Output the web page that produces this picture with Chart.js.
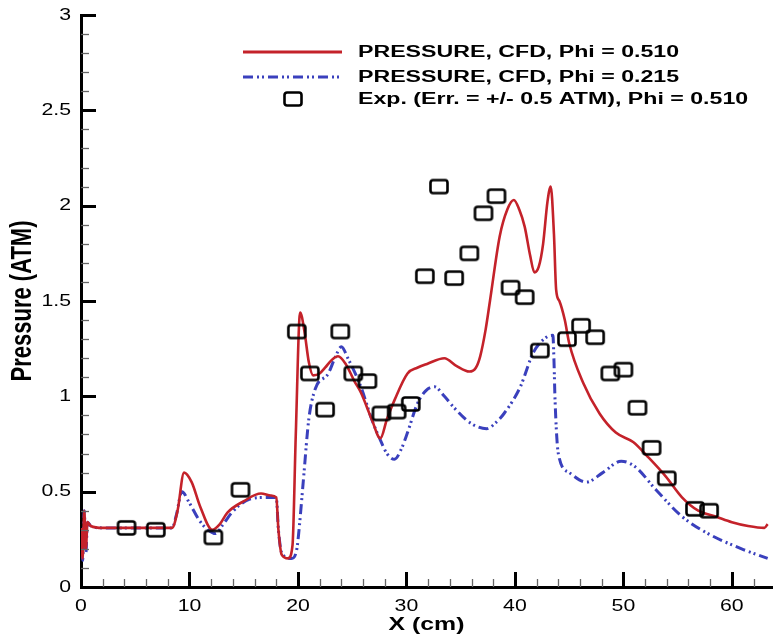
<!DOCTYPE html>
<html>
<head>
<meta charset="utf-8">
<title>Pressure vs X</title>
<script src="https://cdn.jsdelivr.net/npm/chart.js@4.4.1/dist/chart.umd.min.js"></script>
<style>
  html, body { margin: 0; padding: 0; background: #fff; }
  #chart { display: block; }
</style>
</head>
<body>
<canvas id="chart" width="782" height="636"></canvas>
<script>
// ── Data ──────────────────────────────────────────────────────────────

const xTicks = [0, 10, 20, 30, 40, 50, 60];
const yTicks = [0, 0.5, 1, 1.5, 2, 2.5, 3];

const legendLabels = [
    'PRESSURE, CFD, Phi = 0.510',
    'PRESSURE, CFD, Phi = 0.215',
    'Exp. (Err. = +/- 0.5 ATM), Phi = 0.510',
];

// CFD, Phi = 0.510
const redX = [0, 0.15, 0.3, 0.45, 0.6, 0.9, 2, 8.4, 8.9, 9.5, 10.2, 11.0, 12.1, 12.8, 13.5, 15.0, 16.6, 17.5, 18.0,
    18.2, 18.5, 19.1, 19.5, 19.8, 20.2, 20.6, 21.0, 21.4, 22.0, 22.5, 23.1, 23.7, 24.4, 25.2, 25.8, 26.8, 27.6,
    28.2, 28.9, 30.1, 31.0, 31.9, 33.5, 34.6, 35.8, 36.4, 36.8, 37.3, 37.7, 38.6, 39.3, 39.9, 40.4, 40.9, 41.4,
    41.8, 42.2, 42.6, 43.0, 43.3, 43.6, 43.8, 44.1, 44.6, 45.0, 46.3, 47.8, 49.3, 50.9, 52.3, 53.9, 55.4, 56.9,
    58.5, 60.0, 61.5, 63.0, 63.3];
const redY = [0.31, 0.15, 0.40, 0.20, 0.34, 0.32, 0.31, 0.31, 0.40, 0.60, 0.55, 0.42, 0.30, 0.33, 0.39, 0.45, 0.49, 0.48, 0.47,
    0.30, 0.17, 0.15, 0.22, 0.80, 1.44, 1.34, 1.18, 1.11, 1.12, 1.15, 1.19, 1.21, 1.17, 1.08, 1.02, 0.88, 0.78,
    0.88, 0.98, 1.12, 1.15, 1.17, 1.20, 1.16, 1.13, 1.15, 1.21, 1.35, 1.50, 1.84, 1.98, 2.03, 1.98, 1.89, 1.74,
    1.65, 1.68, 1.80, 2.02, 2.10, 1.85, 1.56, 1.50, 1.40, 1.28, 1.07, 0.91, 0.81, 0.76, 0.68, 0.58, 0.47, 0.40,
    0.37, 0.34, 0.32, 0.31, 0.33];

// CFD, Phi = 0.215
const blueX = [0, 0.15, 0.3, 0.45, 0.6, 0.9, 2, 8.4, 8.8, 9.3, 10.0, 10.9, 11.7, 12.4, 13.0, 13.9, 15.5, 17.0, 18.0,
    18.2, 18.5, 19.4, 19.9, 20.1, 20.5, 21.0, 21.6, 22.8, 23.4, 24.0, 24.6, 25.8, 26.8, 27.6, 28.2, 28.9, 29.5,
    30.1, 31.0, 31.8, 32.6, 33.5, 34.4, 35.9, 37.4, 38.2, 39.0, 40.5, 41.7, 42.9, 43.5, 43.6, 43.7, 44.0, 45.0,
    46.6, 48.1, 49.8, 51.1, 53.0, 55.4, 57.8, 60.9, 63.3];
const blueY = [0.31, 0.14, 0.40, 0.18, 0.34, 0.32, 0.31, 0.31, 0.38, 0.50, 0.44, 0.35, 0.30, 0.28, 0.32, 0.39, 0.46, 0.47, 0.47,
    0.30, 0.18, 0.15, 0.20, 0.30, 0.56, 0.88, 1.04, 1.12, 1.20, 1.26, 1.20, 1.05, 0.88, 0.77, 0.70, 0.67, 0.72,
    0.81, 0.96, 1.03, 1.05, 1.00, 0.94, 0.86, 0.83, 0.86, 0.91, 1.05, 1.23, 1.31, 1.32, 1.19, 0.98, 0.70, 0.60,
    0.55, 0.60, 0.66, 0.63, 0.51, 0.37, 0.28, 0.20, 0.15];

// Experiment, Phi = 0.510
const expX = [4.2, 6.9, 12.2, 14.7, 19.9, 21.1, 22.5, 23.9, 25.1, 26.4, 27.7, 29.1, 30.4, 31.7, 33.0, 34.4,
    35.8, 37.1, 38.3, 39.6, 40.9, 42.3, 44.8, 46.1, 47.4, 48.8, 50.0, 51.3, 52.6, 54.0, 56.6, 57.9];
const expY = [0.31, 0.30, 0.26, 0.51, 1.34, 1.12, 0.93, 1.34, 1.12, 1.08, 0.91, 0.92, 0.96, 1.63, 2.10, 1.62,
    1.75, 1.96, 2.05, 1.57, 1.52, 1.24, 1.30, 1.37, 1.31, 1.12, 1.14, 0.94, 0.73, 0.57, 0.41, 0.40];

const X_MAX = 63.7;
const RED = '#c4222a';
const BLUE = '#3a40bd';
const BLUE_DASH = [10, 4, 2, 3, 2, 4];
const FONT = "'Liberation Sans', Arial, Helvetica, sans-serif";

const toPoints = (xs, ys) => xs.map((x, i) => ({ x, y: ys[i] }));

// ── Canvas tweaks ─────────────────────────────────────────────────────

const canvas = document.getElementById('chart');
const ctx = canvas.getContext('2d');

// The reference lettering is stretched sideways; widen text around its anchor
const rawFillText = ctx.fillText;
ctx.fillText = function (text, x, y) {
    const k = this.font.includes('bold') ? 1.38 : 1.25;
    const m = this.getTransform();
    const p = m.transformPoint(new DOMPoint(x, y));
    this.save();
    this.setTransform(new DOMMatrix().translate(p.x, p.y).scale(k, 1).translate(-p.x, -p.y).multiply(m));
    rawFillText.call(this, text, x, y);
    this.restore();
};

// Hollow, slightly wide square marker
function makeMarker() {
    const c = document.createElement('canvas');
    c.width = 22; c.height = 18;
    const g = c.getContext('2d');
    g.lineWidth = 2.6;
    g.strokeStyle = '#000';
    g.beginPath();
    g.roundRect(2.5, 2.5, 17, 13, 2.5);
    g.stroke();
    return c;
}
const marker = makeMarker();

// ── Plugins ───────────────────────────────────────────────────────────

// Tecplot-style ticks pointing into the plot
const innerTicks = {
    id: 'innerTicks',
    afterDraw(chart) {
        const { ctx, chartArea: a, scales: { x, y } } = chart;
        ctx.save();
        const tick = (len, width, color, fn) => {
            ctx.lineWidth = width;
            ctx.strokeStyle = color;
            ctx.beginPath();
            fn(len);
            ctx.stroke();
        };
        for (let v = 0; v <= X_MAX; v += 2) {
            const px = Math.round(x.getPixelForValue(v)) + 0.5;
            const major = v % 10 === 0;
            tick(major ? 15 : 8, major ? 3 : 1.3, major ? '#000' : '#666', len => {
                ctx.moveTo(px, a.bottom);
                ctx.lineTo(px, a.bottom - len);
            });
        }
        for (let i = 0; i <= 30; i++) {
            const py = Math.round(y.getPixelForValue(i / 10)) + 0.5;
            const major = i % 5 === 0;
            tick(major ? 15 : 8, major ? 3 : 1.3, major ? '#000' : '#666', len => {
                ctx.moveTo(a.left, py);
                ctx.lineTo(a.left + len, py);
            });
        }
        ctx.restore();
    },
};

const boxLegend = {
    id: 'boxLegend',
    afterDraw(chart) {
        const { ctx } = chart;
        const rows = [52, 77, 99];
        ctx.save();
        ctx.lineWidth = 2.8;
        ctx.strokeStyle = RED;
        ctx.beginPath();
        ctx.moveTo(243, rows[0]);
        ctx.lineTo(342, rows[0]);
        ctx.stroke();

        ctx.lineWidth = 3;
        ctx.strokeStyle = BLUE;
        ctx.setLineDash(BLUE_DASH);
        ctx.beginPath();
        ctx.moveTo(243, rows[1]);
        ctx.lineTo(342, rows[1]);
        ctx.stroke();
        ctx.setLineDash([]);

        ctx.drawImage(marker, 293 - marker.width / 2, rows[2] - marker.height / 2);

        ctx.fillStyle = '#000';
        ctx.font = 'bold 16.8px ' + FONT;
        ctx.textAlign = 'left';
        ctx.textBaseline = 'middle';
        legendLabels.forEach((t, i) => ctx.fillText(t, 358, rows[i]));
        ctx.restore();
    },
};

// ── Chart ─────────────────────────────────────────────────────────────

new Chart(ctx, {
    type: 'scatter',
    data: {
        datasets: [
            {
                label: legendLabels[2],
                data: toPoints(expX, expY),
                pointStyle: marker,
                pointRadius: 9,
                order: 0,
            },
            {
                label: legendLabels[0],
                data: toPoints(redX, redY),
                showLine: true,
                borderColor: RED,
                borderWidth: 2.6,
                pointRadius: 0,
                cubicInterpolationMode: 'monotone',
                order: 1,
            },
            {
                label: legendLabels[1],
                data: toPoints(blueX, blueY),
                showLine: true,
                borderColor: BLUE,
                borderWidth: 3,
                borderDash: BLUE_DASH,
                pointRadius: 0,
                cubicInterpolationMode: 'monotone',
                order: 2,
            },
        ],
    },
    options: {
        responsive: false,
        animation: false,
        devicePixelRatio: 1,
        layout: { padding: { left: 0, right: 1, top: 15, bottom: 0 } },
        plugins: {
            legend: { display: false },
            tooltip: { enabled: false },
        },
        scales: {
            x: {
                type: 'linear',
                min: 0,
                max: X_MAX,
                afterBuildTicks: s => { s.ticks = xTicks.map(value => ({ value })); },
                afterFit: s => { s.height = 49; s.paddingLeft = 0; s.paddingRight = 0; },
                grid: { display: false, drawTicks: false },
                border: { display: true, color: '#000', width: 3 },
                ticks: {
                    color: '#000', padding: 9, maxRotation: 0,
                    callback: v => String(v),
                    font: { family: FONT, size: 17 },
                },
                title: {
                    display: true,
                    text: 'X (cm)',
                    color: '#000',
                    padding: { top: 0, bottom: 0 },
                    font: { family: FONT, size: 18, weight: 'bold' },
                },
            },
            y: {
                min: 0,
                max: 3,
                afterBuildTicks: s => { s.ticks = yTicks.map(value => ({ value })); },
                afterFit: s => { s.width = 81; s.paddingTop = 0; s.paddingBottom = 0; },
                grid: { display: false, drawTicks: false },
                border: { display: true, color: '#000', width: 3 },
                ticks: {
                    color: '#000', padding: 10,
                    callback: v => String(v),
                    font: { family: FONT, size: 17 },
                },
                title: {
                    display: true,
                    text: 'Pressure (ATM)',
                    color: '#000',
                    padding: { top: 9, bottom: 0 },
                    font: { family: FONT, size: 22, weight: 'bold' },
                },
            },
        },
    },
    plugins: [innerTicks, boxLegend],
});
</script>
</body>
</html>
